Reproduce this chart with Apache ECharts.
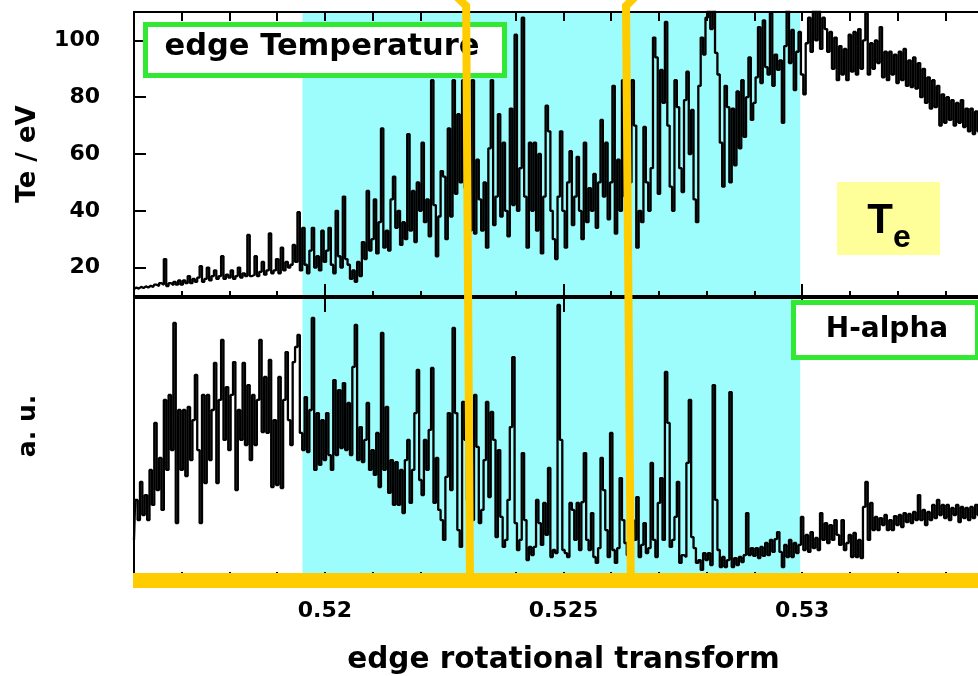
<!DOCTYPE html>
<html>
<head>
<meta charset="utf-8">
<script src="https://cdn.jsdelivr.net/npm/echarts@6/dist/echarts.min.js"></script>
<style>
  html, body { margin: 0; padding: 0; background: #fff; }
  #chart { width: 978px; height: 676px; }
</style>
</head>
<body>
<div id="chart"></div>
<script>
// Sampling of both traces along the edge rotational transform
const xStart = 0.516;
const xStep = 0.00005;

// Edge electron temperature, eV
const teValues = [
  12.5, 13, 12.6, 13.2, 12.8, 13.4, 13, 13.6, 13.2, 14,
  13.5, 14.5, 14, 23, 13.5, 14.5, 13.8, 15, 14, 15.5,
  14, 15.5, 14.5, 17, 14.5, 16, 15, 16.5, 20.5, 15,
  16, 20, 15.5, 17, 19, 16, 17, 24, 16, 17.5,
  16.5, 19, 16, 17, 20, 16.5, 18, 17, 31.5, 17,
  17.5, 24, 17, 18.5, 22, 17.5, 19, 32, 18, 19,
  23, 18, 27, 19, 22, 20, 21, 28, 22, 39.5,
  19, 34, 21, 18, 26, 34, 20, 24, 19, 33,
  22, 26, 34, 21, 18, 40, 24, 20, 45, 23,
  21, 16, 19, 15, 22, 17, 29, 23, 47, 26,
  30, 44, 25, 36, 69, 27, 33, 26, 44, 52,
  34, 40, 28, 36, 30, 67, 33, 47, 29, 50,
  40, 64, 36, 44, 31, 86, 42, 24, 38, 54,
  52, 30, 69, 38, 86, 46, 74, 50, 86, 48,
  45, 33, 86, 32, 58, 44, 33, 50, 27, 62,
  86, 35, 45, 74, 38, 64, 40, 31, 76, 42,
  102, 40, 55, 108, 45, 27, 64, 40, 64, 33,
  60, 25, 45, 77, 68, 40, 30, 23, 45, 68,
  40, 27, 50, 61, 35, 45, 59, 40, 30, 64,
  36, 48, 40, 53, 34, 50, 72, 45, 64, 37,
  50, 84, 32, 58, 40, 86, 45, 30, 50, 86,
  70, 27, 40, 36, 69.5, 50, 40, 55, 101, 94,
  46, 89.6, 78, 106.5, 70, 48.5, 40, 86, 76.5, 55,
  46.6, 79, 89, 60, 75.5, 44, 36, 84, 101, 95,
  108, 112, 104, 112, 95.6, 88, 64, 48.5, 84, 76.5,
  50, 76, 56, 82, 62, 86, 66, 80, 94, 72,
  78, 87, 104.7, 85, 107, 90.6, 88, 109.6, 84, 95,
  89.6, 93, 71, 98, 111, 92, 103.7, 82.5, 96, 103,
  88, 81, 99, 108, 96, 111, 100, 112, 97, 108,
  104, 96, 103, 90, 101, 86, 98, 88, 97, 86,
  102, 89, 103, 88, 104, 90, 100, 109.6, 88, 99,
  90, 100, 92, 104.7, 87, 96, 86, 96, 88, 95,
  85, 96, 86, 97, 84, 93, 83.6, 94, 83, 92,
  80, 90, 78, 87, 76, 86, 76.5, 84, 70, 81,
  71, 80, 72, 79, 70, 78, 71, 79, 69.5, 76,
  68, 76, 67, 75, 68, 74, 67
];

// H-alpha emission, arbitrary units
const halphaValues = [
  13.6, 27.9, 20.7, 34.3, 22.5, 29.6, 20.7, 38.6, 26.1, 55.4,
  31.4, 42.9, 24.3, 63.6, 38.6, 65.4, 45.7, 91.1, 19.6, 60,
  38.6, 60, 36.4, 61.1, 42.1, 56.4, 72.5, 45.7, 19.6, 65.4,
  33.9, 65.4, 42.1, 60, 76.8, 33.9, 63.6, 85, 49.3, 68.2,
  45.7, 65.4, 77.1, 31.4, 60, 49.3, 76.8, 47.5, 68.9, 42.1,
  65.4, 47.5, 63.6, 85, 52.1, 71.8, 51.8, 77.9, 32.5, 56.4,
  33.2, 71.8, 32.1, 63.6, 80.7, 56.4, 47.5, 77.1, 82.5, 86.8,
  51.8, 45.7, 64.6, 45, 60, 92.9, 38.6, 58.9, 40.4, 56.4,
  42.1, 58.9, 43.9, 38.6, 70.7, 43.9, 67.1, 46.4, 69.6, 45.7,
  62.5, 43.9, 75.4, 90.4, 42.1, 53.9, 41.4, 49.3, 62.5, 38.6,
  45.7, 36.8, 51.8, 32.5, 87.5, 38.6, 61.1, 30.4, 42.1, 26.1,
  41.4, 26.1, 38.6, 23.2, 42.1, 49.3, 26.8, 38.6, 58.9, 74.3,
  35, 29.6, 49.3, 38.6, 52.9, 75, 26.8, 42.9, 24.3, 20.7,
  13.6, 36.1, 58.9, 31.4, 89.3, 58.9, 17.1, 11.1, 62.9, 49.3,
  27.9, 42.1, 20.7, 65.4, 46.8, 19.6, 24.3, 42.1, 62.9, 28.9,
  59.3, 49.3, 14.6, 45.7, 21.8, 11.1, 13.6, 27.9, 53.9, 78.9,
  19.6, 10, 13.6, 44.6, 20.7, 6.4, 11.1, 8.2, 11.1, 27.9,
  19.6, 11.8, 26.8, 15.4, 39.3, 7.5, 10, 8.9, 97.5, 49.3,
  10, 8.9, 7.5, 26.8, 24.3, 13.6, 26.8, 10, 27.1, 44.6,
  13.6, 10, 23.2, 7.5, 5.4, 10.7, 42.9, 31.4, 17.1, 7.5,
  51.8, 10, 5.4, 10.7, 35.7, 20.7, 12.5, 8.2, 11.8, 20.7,
  13.6, 28.9, 7.5, 11.8, 19.6, 8.9, 10.7, 41.1, 13.6, 7.5,
  26.8, 35.7, 13.6, 73.6, 55.4, 11.1, 13.6, 21.8, 34.3, 5.4,
  8.2, 7.5, 41.1, 63.6, 14.6, 10.7, 5.4, 6.4, 2.9, 8.9,
  6.4, 8.9, 4.6, 68.9, 27.9, 10, 3.9, 7.5, 3.9, 6.4,
  66.4, 3.9, 7.1, 4.6, 7.5, 5.7, 8.2, 23.2, 8.2, 10.7,
  7.9, 10.7, 7.1, 11.1, 7.9, 12.5, 8.2, 13.6, 9.3, 13.9,
  16.4, 9.3, 3.9, 11.8, 7.5, 13.6, 7.5, 12.5, 8.9, 11.8,
  21.8, 10, 15.4, 9.3, 16.4, 10.7, 14.3, 10, 23.2, 13.6,
  19.6, 12.5, 18.9, 13.6, 20.7, 15.4, 11.8, 20.7, 10, 12.5,
  15.4, 7.5, 16.1, 7.5, 13.6, 7.1, 25.4, 34.3, 13.6, 26.8,
  17.1, 21.8, 17.1, 21.4, 18.9, 22.5, 17.1, 20.7, 17.1, 22.1,
  18.9, 22.5, 18.2, 23.2, 20, 22.9, 19.6, 23.6, 20.7, 29.6,
  20.7, 24.3, 18.9, 23.6, 20.7, 26.1, 21.4, 27.9, 22.5, 26.1,
  21.4, 26.1, 20.7, 25, 22.5, 26.1, 20, 25.4, 21.4, 25,
  20.7, 25.4, 21.4, 26.1, 22.5, 23.9, 21.4
];

// Highlighted transform window
const shadedRange = [0.51953, 0.52996];

// Axis ticks
const minorTicks = [0.517, 0.518, 0.519, 0.52, 0.521, 0.522, 0.523, 0.524, 0.525,
                    0.526, 0.527, 0.528, 0.529, 0.53, 0.531, 0.532, 0.533];
const majorTicks = [0.52, 0.525, 0.53];
const majorTickLabels = ['0.52', '0.525', '0.53'];
const teTicks = [20, 40, 60, 80, 100];
const teTickLabels = ['20', '40', '60', '80', '100'];

// Marker lines: transform value at the top and at the bottom of the plot
const markerTop = [0.52296, 0.52631];
const markerBottom = [0.52304, 0.52641];

const X_MIN = 0.516, X_MAX = 0.534;
const TE_MIN = 10, TE_MAX = 110;
const HA_MIN = 0, HA_MAX = 100;
const FONT = 'DejaVu Sans';
const YELLOW = '#ffcc00';
const GREEN = '#33e833';
const CYAN = '#9dfcfc';

const teData = teValues.map((v, i) => [xStart + i * xStep, v]);
const halphaData = halphaValues.map((v, i) => [xStart + i * xStep, v]);

function tickAxis(grid, pos, ticks, len, extra) {
  return Object.assign({
    type: 'value', gridIndex: grid, position: pos, min: X_MIN, max: X_MAX, z: 10,
    axisLine: { show: true, lineStyle: { color: '#000', width: 2 } },
    axisTick: { show: true, inside: true, length: len, customValues: ticks,
                lineStyle: { color: '#000', width: 2 } },
    axisLabel: { show: false },
    splitLine: { show: false }
  }, extra || {});
}

const chart = echarts.init(document.getElementById('chart'), null, { renderer: 'canvas' });

chart.setOption({
  animation: false,
  backgroundColor: '#fff',
  grid: [
    { left: 134, top: 12, width: 859, height: 284, outerBoundsMode: 'none', containLabel: false },
    { left: 134, top: 298, width: 859, height: 280, outerBoundsMode: 'none', containLabel: false }
  ],
  xAxis: [
    tickAxis(0, 'top', minorTicks, 9),
    tickAxis(0, 'bottom', minorTicks, 5),
    tickAxis(0, 'bottom', majorTicks, 12),
    tickAxis(1, 'top', minorTicks, 7),
    tickAxis(1, 'top', majorTicks, 14),
    tickAxis(1, 'bottom', minorTicks, 6, {
      name: 'edge rotational transform',
      nameLocation: 'middle',
      nameGap: 67,
      nameTextStyle: { fontFamily: FONT, fontWeight: 'bold', fontSize: 29.5, color: '#000' },
      axisLabel: {
        show: true, customValues: majorTicks, margin: 22,
        fontFamily: FONT, fontWeight: 'bold', fontSize: 22, color: '#000',
        formatter: v => {
          const k = majorTicks.findIndex(t => Math.abs(t - v) < 1e-7);
          return k >= 0 ? majorTickLabels[k] : '';
        }
      }
    })
  ],
  yAxis: [
    {
      type: 'value', gridIndex: 0, min: TE_MIN, max: TE_MAX, z: 10,
      name: 'Te / eV', nameLocation: 'middle', nameRotate: 90, nameGap: 93,
      nameTextStyle: { fontFamily: FONT, fontWeight: 'bold', fontSize: 26, color: '#000' },
      axisLine: { show: true, lineStyle: { color: '#000', width: 2 } },
      axisTick: { show: true, inside: true, length: 12, customValues: teTicks,
                  lineStyle: { color: '#000', width: 2 } },
      axisLabel: {
        show: true, customValues: teTicks, margin: 34,
        fontFamily: FONT, fontWeight: 'bold', fontSize: 22, color: '#000',
        formatter: v => {
          const k = teTicks.indexOf(Math.round(v));
          return k >= 0 ? teTickLabels[k] : '';
        }
      },
      splitLine: { show: false }
    },
    {
      type: 'value', gridIndex: 1, min: HA_MIN, max: HA_MAX, z: 10,
      name: 'a. u.', nameLocation: 'middle', nameRotate: 90, nameGap: 93,
      nameTextStyle: { fontFamily: FONT, fontWeight: 'bold', fontSize: 25, color: '#000',
                       padding: [0, 0, 0, 24] },
      axisLine: { show: true, lineStyle: { color: '#000', width: 2 } },
      axisTick: { show: false },
      axisLabel: { show: false },
      splitLine: { show: false }
    }
  ],
  series: [
    {
      name: 'edge Temperature', type: 'line', xAxisIndex: 0, yAxisIndex: 0,
      data: teData, symbol: 'none', clip: true, step: 'middle',
      lineStyle: { color: '#000', width: 2.3 },
      markArea: {
        silent: true, itemStyle: { color: CYAN, opacity: 1 },
        data: [[{ xAxis: shadedRange[0] }, { xAxis: shadedRange[1] }]]
      }
    },
    {
      name: 'H-alpha', type: 'line', xAxisIndex: 3, yAxisIndex: 1,
      data: halphaData, symbol: 'none', clip: true, step: 'middle',
      lineStyle: { color: '#000', width: 2.3 },
      markArea: {
        silent: true, itemStyle: { color: CYAN, opacity: 1 },
        data: [[{ xAxis: shadedRange[0] }, { xAxis: shadedRange[1] }]]
      }
    }
  ]
});

// Overlays positioned from the axes
const topPx = (x, y) => chart.convertToPixel({ gridIndex: 0 }, [x, y]);
const botPx = (x, y) => chart.convertToPixel({ gridIndex: 1 }, [x, y]);

const graphics = [];

// legend boxes
graphics.push(
  { type: 'rect', z: 50, shape: { x: 145.5, y: 24.5, width: 359, height: 51 },
    style: { fill: '#fff', stroke: GREEN, lineWidth: 5 } },
  { type: 'text', z: 51, x: 322, y: 47,
    style: { text: 'edge Temperature', fontFamily: FONT, fontWeight: 'bold', fontSize: 30.5,
             fill: '#000', align: 'center', verticalAlign: 'middle' } },
  { type: 'rect', z: 50, shape: { x: 793.5, y: 302.5, width: 184, height: 55 },
    style: { fill: '#fff', stroke: GREEN, lineWidth: 5 } },
  { type: 'text', z: 51, x: 887, y: 330,
    style: { text: 'H-alpha', fontFamily: FONT, fontWeight: 'bold', fontSize: 28,
             fill: '#000', align: 'center', verticalAlign: 'middle' } },
  { type: 'rect', z: 50, shape: { x: 837, y: 182, width: 103, height: 73 },
    style: { fill: '#ffff99' } },
  { type: 'text', z: 51, x: 880, y: 221,
    style: { text: 'T', fontFamily: 'Liberation Sans', fontWeight: 'bold', fontSize: 42,
             fill: '#000', align: 'center', verticalAlign: 'middle' } },
  { type: 'text', z: 51, x: 902, y: 238,
    style: { text: 'e', fontFamily: 'Liberation Sans', fontWeight: 'bold', fontSize: 32,
             fill: '#000', align: 'center', verticalAlign: 'middle' } }
);

// yellow marker lines crossing both panels
markerTop.forEach((xt, k) => {
  const p0 = topPx(xt, TE_MAX);
  const p1 = botPx(markerBottom[k], HA_MIN);
  const dir = k === 0 ? -1 : 1;
  graphics.push({
    type: 'polyline', z: 60,
    shape: { points: [[p0[0] + dir * 12, p0[1] - 18], [p0[0], p0[1] - 6], [p1[0], p1[1]]] },
    style: { stroke: YELLOW, lineWidth: 8, fill: null, lineJoin: 'miter' }
  });
});

// yellow bar along the lower axis
const b0 = botPx(X_MIN, HA_MIN);
const b1 = botPx(X_MAX, HA_MIN);
graphics.push({
  type: 'line', z: 59,
  shape: { x1: b0[0] - 1, y1: b0[1] + 2.5, x2: b1[0], y2: b1[1] + 2.5 },
  style: { stroke: YELLOW, lineWidth: 15 }
});

chart.setOption({ graphic: graphics });
</script>
</body>
</html>
